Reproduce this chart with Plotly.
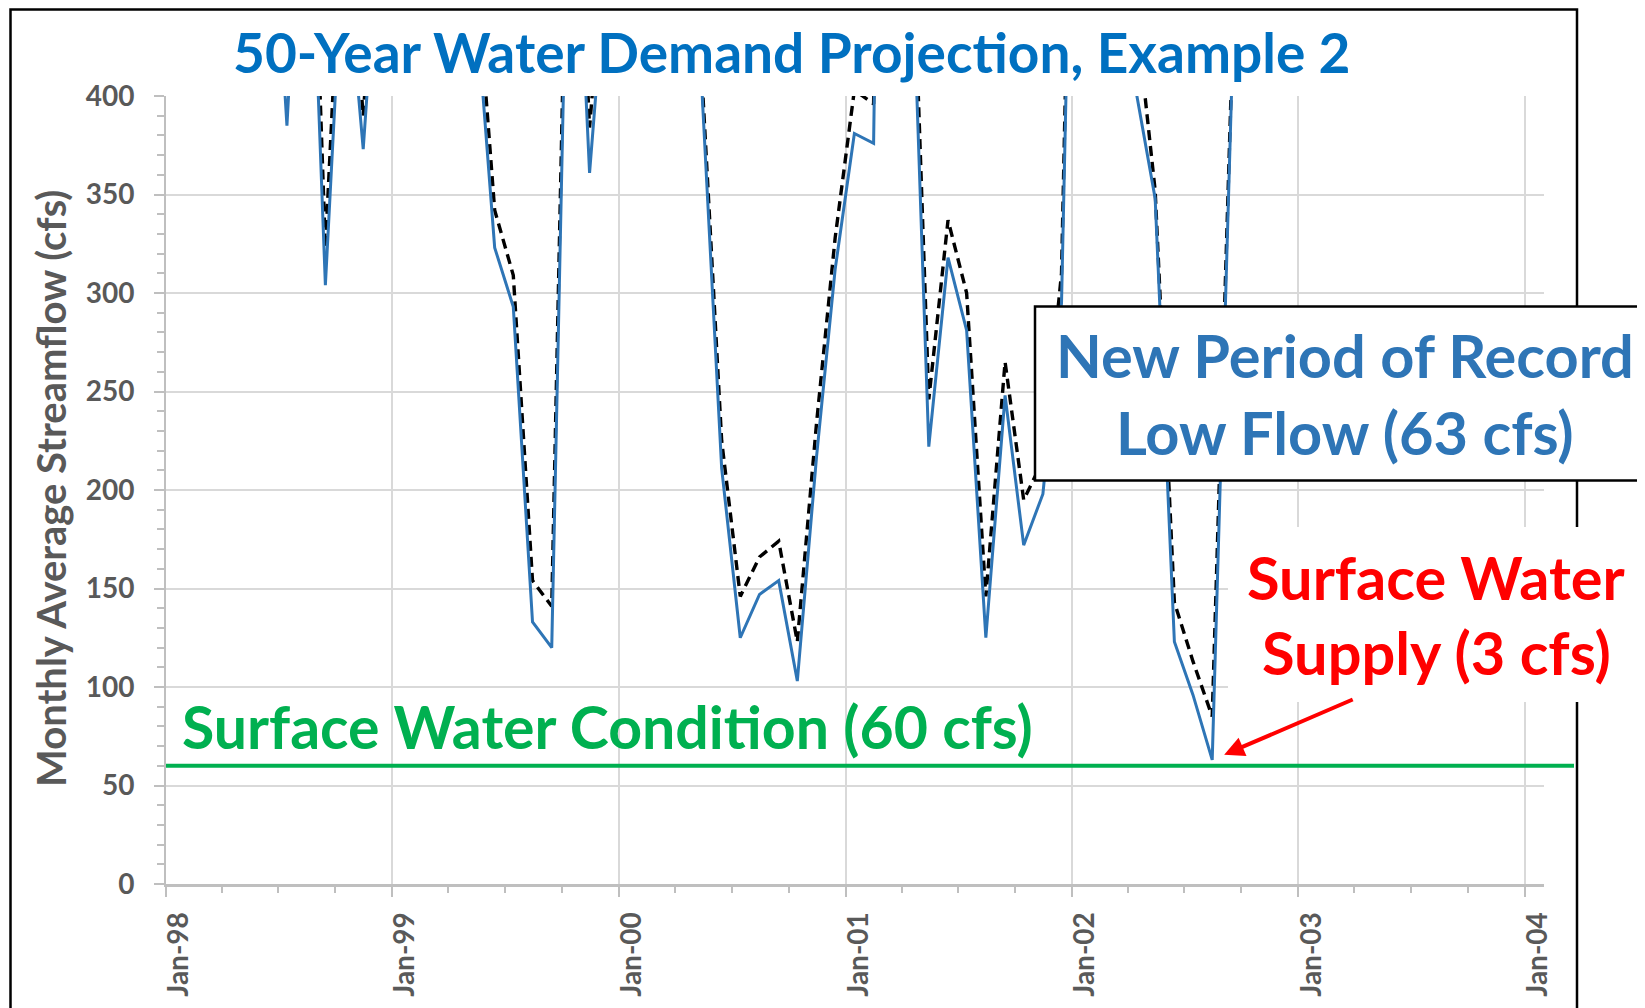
import numpy as np
import pandas as pd
import plotly.graph_objects as go

# ---------------- data ----------------
months = pd.date_range("1998-01-01", periods=60, freq="MS") + pd.Timedelta(days=14)

with_demand = [
    620, 700, 800, 750, 640, 540, 385, 565, 304, 485, 373, 500,   # 1998
    650, 720, 800, 700, 450, 323, 293, 133, 120, 570, 361, 480,   # 1999
    700, 800, 760, 650, 398, 211, 125, 147, 154, 103, 217, 312,   # 2000
    381, 376, 1000, 500, 222, 318, 281, 125, 248, 172, 198, 295,  # 2001
    750, 800, 650, 401, 348, 123, 96, 63, 400, 700, 800, 900,     # 2002
]
baseline = [
    640, 720, 820, 770, 660, 560, 430, 605, 323, 515, 390, 520,   # 1998
    670, 740, 820, 720, 470, 342, 309, 154, 141, 590, 384, 500,   # 1999
    720, 820, 780, 670, 405, 225, 146, 166, 174, 123, 234, 328,   # 2000
    403, 396, 1020, 520, 246, 337, 300, 146, 265, 195, 215, 310,  # 2001
    770, 820, 670, 440, 352, 143, 113, 85, 415, 720, 820, 920,    # 2002
]
CONDITION = 60

TITLE = "50-Year Water Demand Projection, Example 2"
Y_TITLE = "Monthly Average Streamflow (cfs)"
GREEN_TEXT = "Surface Water Condition (60 cfs)"
BOX_LINES = ["New Period of Record", "Low Flow (63 cfs)"]
RED_LINES = ["Surface Water", "Supply (3 cfs)"]

# ---------------- layout helpers ----------------
OFF = 8                      # page body margin
W, H = 1645 - OFF, 1008 - OFF
SL, SR, ST, SB = 166, 1544, 96, 884   # plot area in screen pixels


def px(x):
    return (x - SL) / (SR - SL)


def py(y):
    return (SB - y) / (SB - ST)


FONT = "Lato"
GRAY = "#595959"
AX = "#BFBFBF"
GRID = "#D9D9D9"
BLUE = "#2E75B6"

fig = go.Figure()
fig.add_trace(go.Scatter(
    x=months, y=baseline, mode="lines",
    line=dict(color="black", width=3.4, dash="10px,6px"), name="Baseline",
))
fig.add_trace(go.Scatter(
    x=months, y=with_demand, mode="lines",
    line=dict(color=BLUE, width=3), name="With demand",
))

shapes = [
    # chart border
    dict(type="rect", xref="paper", yref="paper",
         x0=px(10.5), x1=px(1577), y0=py(1040), y1=py(9.5),
         line=dict(color="black", width=2.5), fillcolor="rgba(0,0,0,0)", layer="below"),
    # condition line
    dict(type="line", xref="paper", yref="y", x0=0, x1=px(1574),
         y0=CONDITION, y1=CONDITION, line=dict(color="#00B050", width=4), layer="above"),
    # new record box
    dict(type="rect", xref="paper", yref="paper",
         x0=px(1035), x1=px(1670), y0=py(480.5), y1=py(306.5),
         line=dict(color="black", width=2.5), fillcolor="white", layer="above"),
    # red text background
    dict(type="rect", xref="paper", yref="paper",
         x0=px(1228), x1=px(1643), y0=py(702), y1=py(527),
         line=dict(width=0), fillcolor="white", layer="above"),
]

imin = int(np.argmin(with_demand))
annotations = [
    dict(text="<b>" + TITLE + "</b>", xref="paper", yref="paper",
         x=px(792), y=py(52), xanchor="center", yanchor="middle", showarrow=False,
         font=dict(family=FONT, size=55, color="#0070C0")),
    dict(text="<b>" + Y_TITLE + "</b>", xref="paper", yref="paper",
         x=px(51), y=py(489), xanchor="center", yanchor="middle", showarrow=False,
         textangle=-90, font=dict(family=FONT, size=40, color=GRAY)),
    dict(text="<b>" + GREEN_TEXT + "</b>", xref="paper", yref="paper",
         x=px(180), y=py(726), xanchor="left", yanchor="middle", showarrow=False,
         font=dict(family=FONT, size=59, color="#00B050")),
    dict(text="<b>" + BOX_LINES[0] + "</b>", xref="paper", yref="paper",
         x=px(1345), y=py(355), xanchor="center", yanchor="middle", showarrow=False,
         font=dict(family=FONT, size=59.5, color=BLUE)),
    dict(text="<b>" + BOX_LINES[1] + "</b>", xref="paper", yref="paper",
         x=px(1345), y=py(432), xanchor="center", yanchor="middle", showarrow=False,
         font=dict(family=FONT, size=59.5, color=BLUE)),
    dict(text="<b>" + RED_LINES[0] + "</b>", xref="paper", yref="paper",
         x=px(1436), y=py(577), xanchor="center", yanchor="middle", showarrow=False,
         font=dict(family=FONT, size=59.5, color="#FF0000")),
    dict(text="<b>" + RED_LINES[1] + "</b>", xref="paper", yref="paper",
         x=px(1436), y=py(652), xanchor="center", yanchor="middle", showarrow=False,
         font=dict(family=FONT, size=59.5, color="#FF0000")),
    dict(text="", x=months[imin], y=with_demand[imin], xref="x", yref="y",
         showarrow=True, ax=142, ay=-61, standoff=13,
         arrowcolor="#FF0000", arrowwidth=4, arrowhead=2, arrowsize=1),
]

fig.update_layout(
    width=W, height=H,
    margin=dict(l=SL - OFF, r=W - (SR - OFF), t=ST - OFF, b=H - (SB - OFF), autoexpand=False),
    paper_bgcolor="white", plot_bgcolor="white",
    showlegend=False,
    shapes=shapes, annotations=annotations,
    font=dict(family=FONT, color=GRAY),
)
fig.update_xaxes(
    type="date", range=["1998-01-01", "2004-02-01"],
    tick0="1998-01-01", dtick="M12", tickformat="%b-%y", tickangle=-90,
    ticks="outside", ticklen=10, tickwidth=2, tickcolor=AX,
    showline=True, linecolor=AX, linewidth=3,
    showgrid=True, gridcolor=GRID, gridwidth=1.5, zeroline=False,
    tickfont=dict(family=FONT, size=28, color=GRAY, weight="bold"),
    ticklabelstandoff=4, ticklabelshift=13,
    minor=dict(dtick="M3", ticks="outside", ticklen=6, tickwidth=1.5, tickcolor=AX, showgrid=False),
)
fig.update_yaxes(
    range=[0, 400], dtick=50, tick0=0,
    ticks="outside", ticklen=10, tickwidth=2, tickcolor=AX,
    showline=True, linecolor=AX, linewidth=2,
    showgrid=True, gridcolor=GRID, gridwidth=1.5, zeroline=False,
    tickfont=dict(family=FONT, size=28, color=GRAY, weight="bold"),
    ticklabelstandoff=14,
    minor=dict(dtick=10, ticks="outside", ticklen=7, tickwidth=1.5, tickcolor=AX, showgrid=False),
)

fig.write_html("out.html")
